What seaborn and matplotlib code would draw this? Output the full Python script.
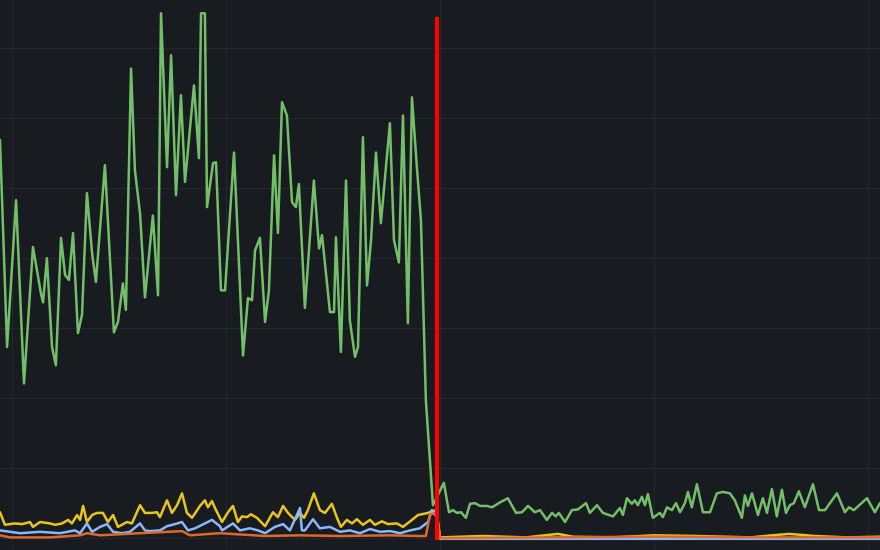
import matplotlib
matplotlib.use("Agg")
import matplotlib.pyplot as plt
import seaborn as sns
import pandas as pd

# time axis in minutes (gridlines every 10)
green_t = [-5.6, -2.3, 1.9, 5.6, 9.8, 13.5, 14.5, 16.3, 18.7, 20.5, 22.9, 24.8, 26.6, 28.5,
           30.8, 32.7, 35.0, 37.4, 39.2, 43.4, 47.6, 49.5, 51.8, 53.2, 55.6, 57.4, 59.8,
           62.1, 65.8, 68.2, 69.6, 72.4, 74.3, 76.6, 78.9, 80.8, 85.0, 87.3, 88.3, 90.1,
           91.1, 93.9, 95.3, 97.6, 99.5, 103.7, 107.9, 110.2, 112.1, 113.5, 115.8, 118.2,
           120.0, 122.4, 124.2, 126.1, 128.4, 130.8, 132.6, 134.0, 136.8, 141.0, 143.4,
           144.8, 148.5, 150.4, 151.3, 153.6, 156.0, 157.8, 160.2, 161.6, 163.9, 165.8,
           167.7, 170.0, 172.3, 176.5, 178.4, 180.7, 182.6, 184.9, 186.8, 189.1, 191.0,
           193.3, 196.6, 201.7, 204.1, 205.9, 207.8, 209.7, 212.0, 213.9, 216.2, 218.6,
           221.8, 224.2, 227.9, 231.6, 235.4, 238.2, 241.0, 244.2, 246.6, 249.8, 252.2,
           254.0, 255.4, 258.3, 261.5, 264.3, 268.1, 269.9, 273.2, 276.0, 280.7, 283.9,
           285.3, 287.2, 289.5, 290.9, 292.3, 294.2, 295.6, 297.0, 299.3, 302.6, 304.0,
           305.9, 308.2, 310.1, 312.0, 314.3, 315.7, 317.5, 319.9, 322.7, 326.0, 329.2,
           332.0, 335.3, 337.6, 340.9, 342.3, 343.7, 345.6, 348.4, 350.7, 352.6, 354.9,
           357.2, 359.6, 361.5, 363.3, 365.2, 367.5, 370.3, 374.1, 376.9, 379.7, 385.3,
           389.0, 390.9, 393.2, 399.3, 403.0, 405.4]
green_v = [56.9, 27.3, 48.3, 22.1, 41.6, 35.0, 33.7, 40.0, 27.3, 24.7, 42.9, 37.6, 36.9, 43.6,
           29.3, 31.9, 49.3, 40.7, 36.6, 53.3, 29.4, 30.9, 36.4, 32.6, 67.1, 52.6, 46.4,
           34.4, 46.1, 34.7, 75.0, 53.0, 69.0, 49.0, 63.3, 50.9, 64.7, 54.3, 75.0, 75.0,
           47.3, 53.6, 53.7, 35.4, 35.4, 55.1, 26.1, 34.3, 34.0, 41.1, 42.9, 30.9,
           35.4, 54.7, 43.6, 62.3, 60.4, 48.0, 47.3, 50.6, 32.9, 51.1, 41.4,
           43.3, 32.3, 32.3, 43.0, 26.6, 51.1, 31.1, 25.9, 27.3, 57.3, 36.1,
           42.6, 55.1, 45.0, 59.3, 42.6, 39.4, 60.4, 30.7, 63.0, 53.0, 45.4,
           19.7, 4.7, 7.9, 3.7, 4.0, 3.6, 3.7, 2.9, 4.9, 5.0, 4.6,
           4.6, 4.4, 5.1, 5.7, 3.6, 3.7, 4.6, 3.7, 4.0, 2.6, 3.6,
           3.1, 3.6, 2.3, 4.0, 4.1, 5.0, 3.6, 4.7, 3.6, 3.1, 4.3,
           3.3, 5.7, 4.9, 5.4, 4.7, 5.9, 4.7, 6.3, 2.9, 3.6, 3.0,
           4.4, 4.0, 5.0, 3.7, 5.0, 6.6, 4.4, 7.7, 3.7, 3.7, 6.4,
           6.6, 6.4, 5.4, 2.9, 6.1, 4.6, 6.4, 3.3, 5.7, 3.6, 7.0,
           3.1, 6.9, 3.6, 4.7, 5.0, 6.7, 4.4, 7.7, 4.0, 4.0, 6.4,
           3.7, 4.4, 4.0, 5.7, 3.7, 5.0]

yellow_t = [-5.6, -3.3, 1.4, 4.7, 8.4, 9.8, 13.1, 17.7, 20.1, 23.4, 26.2, 28.0, 30.4, 31.8,
            33.2, 35.0, 37.4, 39.7, 42.5, 44.8, 47.2, 49.5, 53.7, 56.0, 59.8, 62.1, 65.4,
            67.7, 69.1, 72.4, 74.7, 77.1, 79.4, 81.7, 84.1, 87.8, 90.1, 91.5, 93.4, 94.8,
            98.1, 100.9, 103.2, 105.5, 107.4, 109.7, 111.6, 114.4, 118.2, 121.9, 124.2,
            126.6, 128.9, 132.2, 134.5, 136.4, 138.2, 141.0, 143.8, 146.2, 149.4, 151.8,
            153.6, 156.4, 158.8, 161.1, 163.9, 167.2, 169.5, 172.8, 175.6, 179.8, 182.6,
            186.8, 189.6, 194.3, 196.6, 198.3, 199.9, 220.0, 240.0, 255.0, 262.0, 280.0,
            300.0, 320.0, 345.0, 355.0, 363.0, 375.0, 390.0, 405.4]
yellow_v = [3.7, 1.9, 2.1, 2.0, 2.3, 1.6, 2.3, 2.1, 1.9, 2.1, 2.6, 2.1, 3.3, 2.6,
            4.6, 2.3, 3.3, 3.6, 3.6, 2.3, 3.3, 1.6, 2.3, 2.1, 4.7, 3.6, 3.6,
            3.7, 3.0, 5.4, 3.6, 4.7, 6.4, 3.6, 2.9, 4.6, 5.4, 4.4, 5.3, 4.3,
            2.3, 3.7, 4.6, 2.3, 3.1, 3.0, 3.4, 2.9, 1.7, 3.7, 3.0,
            4.6, 3.6, 2.6, 3.6, 2.9, 4.0, 6.4, 4.0, 3.6, 4.9, 2.9,
            1.6, 2.6, 2.1, 2.7, 1.9, 2.6, 1.9, 2.4, 2.0, 2.1, 1.6,
            2.6, 3.3, 3.6, 3.9, 3.9, 0.1, 0.3, 0.1, 0.6, 0.2, 0.1,
            0.4, 0.3, 0.1, 0.4, 0.6, 0.3, 0.1, 0.2]

blue_t = [-5.6, 3.7, 13.1, 22.4, 29.4, 31.8, 35.0, 37.4, 41.1, 44.4, 47.2, 51.4, 55.1, 59.8,
          62.1, 64.4, 69.1, 72.4, 76.1, 79.4, 82.2, 85.5, 90.1, 93.4, 97.1, 98.1, 103.2,
          106.5, 111.1, 114.9, 118.2, 122.8, 126.6, 129.8, 134.5, 135.4, 136.8, 140.6,
          143.8, 148.5, 153.2, 157.8, 162.5, 167.2, 171.9, 176.5, 181.2, 185.9, 190.5,
          194.3, 196.1, 198.3, 199.9, 405.4]
blue_v = [1.1, 0.7, 0.9, 0.7, 1.1, 0.7, 2.1, 0.9, 1.6, 2.0, 0.9, 0.7, 0.9, 2.1,
          1.1, 1.0, 1.1, 1.7, 2.0, 2.3, 1.1, 1.4, 2.1, 2.6, 1.7, 1.1, 2.1,
          1.1, 1.4, 1.1, 0.7, 1.6, 2.0, 1.1, 4.3, 1.1, 1.1, 2.7,
          1.4, 1.6, 0.9, 1.1, 0.7, 1.3, 0.9, 1.0, 0.7, 1.1, 1.4,
          2.3, 4.0, 3.0, -0.1, -0.1]

orange_t = [-5.6, -0.9, 17.7, 31.8, 35.0, 41.1, 59.8, 79.4, 83.1, 97.1, 118.2, 134.5, 153.2,
            176.5, 190.5, 193.3, 195.2, 198.3, 199.9, 250.0, 300.0, 350.0, 405.4]
orange_v = [0.4, 0.1, 0.1, 0.4, 0.7, 0.4, 0.7, 1.0, 0.4, 0.7, 0.3, 0.4, 0.3,
            0.4, 0.3, 0.3, 3.4, 3.6, 0.0, 0.1, 0.2, 0.1, 0.1]

marker_t = 198.5
marker_range = (-0.3, 74.4)

series = [("green", green_t, green_v), ("yellow", yellow_t, yellow_v),
          ("blue", blue_t, blue_v), ("orange", orange_t, orange_v)]
df = pd.concat([pd.DataFrame({"t": t, "v": v, "series": name}) for name, t, v in series],
               ignore_index=True)
palette = {"green": "#73bf69", "yellow": "#e8c51a", "blue": "#8ab8ff", "orange": "#e0692a"}

sns.set_theme(style="dark")
fig = plt.figure(figsize=(8.8, 5.5), dpi=100)
fig.patch.set_facecolor("#181b1f")
ax = fig.add_axes([0, 0, 1, 1])
ax.set_facecolor("#181b1f")

sns.lineplot(data=df, x="t", y="v", hue="series", hue_order=list(palette),
             palette=palette, estimator=None, sort=False, linewidth=1.8,
             legend=False, ax=ax)
ax.vlines(marker_t, *marker_range, color="#ff0000", linewidth=3, zorder=5)

ax.set_xlim(-5.6, 405.4)
ax.set_ylim(-1.7, 76.9)
ax.set_xticks(range(0, 401, 100))
ax.set_yticks(range(0, 71, 10))
ax.grid(True, color="#24272d", linewidth=0.8)
ax.tick_params(length=0, labelbottom=False, labelleft=False)
ax.set_xlabel("")
ax.set_ylabel("")
for s in ax.spines.values():
    s.set_visible(False)

fig.savefig("out.png", dpi=100, facecolor=fig.get_facecolor())
